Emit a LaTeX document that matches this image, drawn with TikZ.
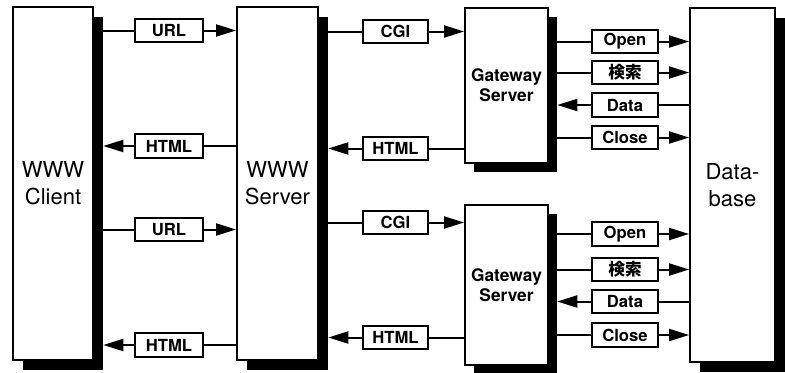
\documentclass[tikz,border=0pt]{standalone}
\usepackage{fontspec}
\setmainfont{TeX Gyre Heros}
\newfontfamily\jpfont{Noto Sans CJK JP}
\usetikzlibrary{arrows.meta}

\tikzset{
  caja/.style={draw, line width=1.4pt, fill=white, inner sep=0pt, align=center},
  sombra/.style={fill=black, inner sep=0pt},
  tam/.style 2 args={minimum width=#1*0.75pt, minimum height=#2*0.75pt},
  grande/.style={font=\fontsize{16.5}{20}\selectfont},
  gw/.style={font=\bfseries\fontsize{13}{15}\selectfont},
  etiqueta/.style={draw, line width=1.4pt, fill=white, inner sep=0pt,
    minimum height=17.5pt, font=\bfseries\fontsize{12.5}{14}\selectfont},
  linea/.style={line width=1.5pt},
  flecha/.style={line width=1.5pt, -{Triangle[length=15pt,width=9pt]}}
}

\begin{document}
\begin{tikzpicture}[x=0.75pt, y=-0.75pt]
  \useasboundingbox (0,0) rectangle (785,372);

  % Sombras de los bloques
  \node[sombra, tam={80}{353}] (clientsh) at (63,193.5) {};
  \node[sombra, tam={81}{353}] (serversh) at (287.5,193.5) {};
  \node[sombra, tam={83}{155}] (gwash) at (515.5,94.5) {};
  \node[sombra, tam={83}{160}] (gwbsh) at (515.5,294) {};
  \node[sombra, tam={85}{354}] (dbsh) at (742.5,195) {};

  % Bloques principales
  \node[caja, grande, tam={80}{353}] (client) at (53,183.5) {WWW\\Client};
  \node[caja, grande, tam={81}{353}] (server) at (277.5,183.5) {WWW\\Server};
  \node[caja, gw, tam={83}{155}] (gwa) at (506.5,85.5) {Gateway\\Server};
  \node[caja, gw, tam={83}{160}] (gwb) at (506.5,285) {Gateway\\Server};
  \node[caja, grande, tam={85}{354}] (db) at (732.5,185) {Data-\\base};

  % Etiquetas entre cliente y servidor
  \node[etiqueta, minimum width=51pt] (urla) at (169,30.5) {URL};
  \node[etiqueta, minimum width=51pt] (htmla) at (169,146) {HTML};
  \node[etiqueta, minimum width=51pt] (urlb) at (169,229.5) {URL};
  \node[etiqueta, minimum width=51pt] (htmlb) at (169,345) {HTML};

  % Etiquetas entre servidor y gateway
  \node[etiqueta, minimum width=49pt] (cgia) at (395.5,31.5) {CGI};
  \node[etiqueta, minimum width=49pt] (htmlc) at (395.5,148.5) {HTML};
  \node[etiqueta, minimum width=49pt] (cgib) at (395.5,222.5) {CGI};
  \node[etiqueta, minimum width=49pt] (htmld) at (395.5,337.5) {HTML};

  % Etiquetas entre gateway y base de datos
  \node[etiqueta, minimum width=50pt] (opena) at (625,41.5) {Open};
  \node[etiqueta, minimum width=50pt] (searcha) at (625,72.5) {\jpfont 検索};
  \node[etiqueta, minimum width=50pt] (dataa) at (625,105) {Data};
  \node[etiqueta, minimum width=50pt] (closea) at (625,137.5) {Close};
  \node[etiqueta, minimum width=50pt] (openb) at (625,234) {Open};
  \node[etiqueta, minimum width=50pt] (searchb) at (625,269.5) {\jpfont 検索};
  \node[etiqueta, minimum width=50pt] (datab) at (625,301.5) {Data};
  \node[etiqueta, minimum width=50pt] (closeb) at (625,335) {Close};

  % Cliente <-> servidor
  \draw[flecha] (clientsh.east |- urla) -- (urla.west) (urla.east) -- (server.west |- urla);
  \draw[flecha] (server.west |- htmla) -- (htmla.east) (htmla.west) -- (clientsh.east |- htmla);
  \draw[flecha] (clientsh.east |- urlb) -- (urlb.west) (urlb.east) -- (server.west |- urlb);
  \draw[flecha] (server.west |- htmlb) -- (htmlb.east) (htmlb.west) -- (clientsh.east |- htmlb);

  % Servidor <-> gateway
  \draw[flecha] (serversh.east |- cgia) -- (cgia.west) (cgia.east) -- (gwa.west |- cgia);
  \draw[flecha] (gwa.west |- htmlc) -- (htmlc.east) (htmlc.west) -- (serversh.east |- htmlc);
  \draw[flecha] (serversh.east |- cgib) -- (cgib.west) (cgib.east) -- (gwb.west |- cgib);
  \draw[flecha] (gwb.west |- htmld) -- (htmld.east) (htmld.west) -- (serversh.east |- htmld);

  % Gateway <-> base de datos
  \foreach \e in {opena, searcha, closea}
    \draw[flecha] (gwash.east |- \e) -- (\e.west) (\e.east) -- (db.west |- \e);
  \draw[flecha] (db.west |- dataa) -- (dataa.east) (dataa.west) -- (gwash.east |- dataa);
  \foreach \e in {openb, searchb, closeb}
    \draw[flecha] (gwbsh.east |- \e) -- (\e.west) (\e.east) -- (db.west |- \e);
  \draw[flecha] (db.west |- datab) -- (datab.east) (datab.west) -- (gwbsh.east |- datab);
\end{tikzpicture}
\end{document}
